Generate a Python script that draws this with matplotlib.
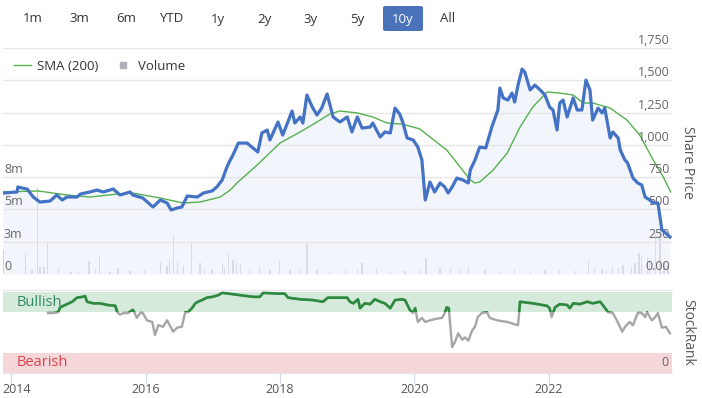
import numpy as np
import matplotlib
matplotlib.use("Agg")
import matplotlib.pyplot as plt
from matplotlib.patches import FancyBboxPatch, Rectangle
from matplotlib.lines import Line2D
import matplotlib.transforms as mtransforms

plt.rcParams['font.family'] = ['Open Sans', 'DejaVu Sans']

# ---- data (decimal years) ----
price_t = [2013.88, 2014.09, 2014.10, 2014.16, 2014.24, 2014.33, 2014.43, 2014.58, 2014.68, 2014.76,
           2014.83, 2014.98, 2015.03, 2015.17, 2015.28, 2015.37, 2015.52, 2015.62, 2015.77, 2015.81,
           2015.96, 2016.11, 2016.22, 2016.32, 2016.38, 2016.47, 2016.54, 2016.62, 2016.77, 2016.86,
           2016.99, 2017.06, 2017.14, 2017.21, 2017.26, 2017.30, 2017.38, 2017.51, 2017.58, 2017.67,
           2017.73, 2017.81, 2017.85, 2017.97, 2018.04, 2018.18, 2018.22, 2018.30, 2018.34, 2018.40,
           2018.48, 2018.55, 2018.62, 2018.70, 2018.79, 2018.89, 2019.00, 2019.07, 2019.15, 2019.22,
           2019.34, 2019.38, 2019.49, 2019.56, 2019.64, 2019.71, 2019.78, 2019.83, 2019.89, 2019.98,
           2020.05, 2020.11, 2020.16, 2020.23, 2020.30, 2020.38, 2020.45, 2020.50, 2020.56, 2020.63,
           2020.72, 2020.80, 2020.83, 2020.90, 2020.97, 2021.06, 2021.15, 2021.24, 2021.27, 2021.32,
           2021.39, 2021.45, 2021.49, 2021.54, 2021.60, 2021.64, 2021.72, 2021.79, 2021.87, 2021.94,
           2022.01, 2022.06, 2022.12, 2022.16, 2022.21, 2022.27, 2022.36, 2022.42, 2022.49, 2022.55,
           2022.61, 2022.65, 2022.73, 2022.79, 2022.83, 2022.91, 2022.95, 2023.03, 2023.06, 2023.13,
           2023.17, 2023.25, 2023.32, 2023.38, 2023.43, 2023.50, 2023.55, 2023.62, 2023.68, 2023.72,
           2023.80]
price = [627, 635, 674, 666, 658, 596, 557, 565, 612, 573,
         596, 596, 619, 635, 650, 635, 658, 612, 635, 612,
         588, 519, 573, 550, 496, 511, 519, 604, 596, 627,
         643, 674, 728, 828, 883, 921, 1014, 1014, 983, 945,
         1092, 1115, 1038, 1177, 1076, 1262, 1169, 1216, 1169, 1386,
         1293, 1231, 1285, 1394, 1216, 1177, 1216, 1100, 1216, 1130,
         1138, 1169, 1061, 1100, 1092, 1285, 1239, 1169, 1053, 1038,
         983, 883, 573, 712, 635, 705, 674, 627, 674, 743,
         728, 705, 805, 883, 983, 976, 1138, 1270, 1440, 1363,
         1347, 1401, 1332, 1463, 1587, 1564, 1425, 1463, 1425, 1386,
         1293, 1270, 1115, 1324, 1347, 1216, 1363, 1270, 1270, 1502,
         1425, 1192, 1285, 1247, 1285, 1053, 1100, 1053, 960, 883,
         859, 743, 705, 689, 596, 573, 550, 550, 341, 325,
         286]

sma_t = [2013.88, 2014.40, 2014.83, 2015.17, 2015.58, 2015.81, 2016.22, 2016.56, 2016.81, 2017.11,
         2017.26, 2017.36, 2017.66, 2018.00, 2018.30, 2018.55, 2018.74, 2018.89, 2019.15, 2019.38,
         2019.59, 2019.81, 2019.98, 2020.08, 2020.23, 2020.48, 2020.68, 2020.83, 2020.90, 2020.97,
         2021.17, 2021.38, 2021.57, 2021.76, 2021.97, 2022.16, 2022.36, 2022.51, 2022.65, 2022.91,
         2023.16, 2023.35, 2023.55, 2023.70, 2023.81]
sma = [635, 643, 612, 596, 619, 627, 588, 550, 557, 596,
       650, 705, 844, 1014, 1100, 1177, 1239, 1262, 1247, 1216,
       1169, 1161, 1138, 1123, 1061, 960, 828, 728, 705, 712,
       805, 937, 1138, 1293, 1409, 1401, 1386, 1324, 1324, 1285,
       1192, 1076, 883, 751, 635]

vol_t = [2013.88, 2014.21, 2014.31, 2014.39, 2014.43, 2014.49, 2014.54, 2014.70, 2014.89, 2015.00,
         2015.16, 2015.26, 2015.31, 2015.47, 2015.59, 2015.77, 2015.99, 2016.22, 2016.32, 2016.36,
         2016.42, 2016.48, 2016.56, 2016.68, 2016.81, 2016.88, 2016.99, 2017.14, 2017.18, 2017.23,
         2017.30, 2017.35, 2017.41, 2017.55, 2017.70, 2017.85, 2017.99, 2018.15, 2018.30, 2018.40,
         2018.55, 2018.74, 2018.97, 2019.15, 2019.22, 2019.44, 2019.64, 2019.86, 2020.08, 2020.17,
         2020.38, 2020.53, 2020.68, 2020.80, 2021.05, 2021.27, 2021.49, 2021.72, 2021.94, 2022.16,
         2022.39, 2022.59, 2022.68, 2022.79, 2022.86, 2022.95, 2023.03, 2023.10, 2023.23, 2023.28,
         2023.34, 2023.38, 2023.46, 2023.50, 2023.58, 2023.65, 2023.71, 2023.77]
volume = [1.86, 1.63, 0.31, 6.66, 0.54, 0.54, 2.48, 0.46, 0.15, 0.23,
          1.00, 0.39, 1.47, 0.15, 0.46, 0.23, 0.31, 0.93, 0.62, 1.08,
          3.02, 0.93, 0.62, 2.48, 0.85, 0.31, 0.39, 0.85, 0.46, 1.63,
          1.08, 0.93, 0.77, 0.31, 0.54, 0.31, 1.00, 0.31, 0.39, 2.32,
          0.31, 0.23, 0.31, 0.31, 0.85, 0.39, 0.23, 0.23, 0.31, 1.24,
          0.46, 0.46, 0.39, 0.54, 0.31, 0.23, 0.31, 0.23, 0.31, 0.31,
          0.23, 1.08, 0.46, 0.39, 0.31, 0.54, 0.54, 0.70, 0.54, 0.85,
          1.63, 1.47, 1.32, 1.08, 3.17, 3.30, 0.93, 0.70]

rank_t = [2014.55, 2014.62, 2014.70, 2014.73, 2014.83, 2014.91, 2014.98, 2015.06, 2015.10, 2015.13,
          2015.22, 2015.32, 2015.43, 2015.55, 2015.58, 2015.62, 2015.67, 2015.74, 2015.81, 2015.84,
          2015.87, 2015.92, 2015.96, 2016.02, 2016.10, 2016.14, 2016.19, 2016.26, 2016.32, 2016.36,
          2016.41, 2016.47, 2016.54, 2016.59, 2016.63, 2016.69, 2016.74, 2016.78, 2016.84, 2016.91,
          2016.99, 2017.08, 2017.14, 2017.23, 2017.41, 2017.60, 2017.70, 2017.75, 2017.96, 2018.07,
          2018.12, 2018.30, 2018.49, 2018.64, 2018.71, 2018.85, 2019.00, 2019.04, 2019.09, 2019.16,
          2019.19, 2019.26, 2019.34, 2019.41, 2019.49, 2019.56, 2019.64, 2019.71, 2019.81, 2019.86,
          2019.93, 2019.98, 2020.01, 2020.05, 2020.11, 2020.16, 2020.23, 2020.33, 2020.41, 2020.45,
          2020.48, 2020.51, 2020.56, 2020.60, 2020.65, 2020.71, 2020.75, 2020.80, 2020.86, 2020.90,
          2020.94, 2021.00, 2021.08, 2021.12, 2021.23, 2021.38, 2021.54, 2021.57, 2021.76, 2021.97,
          2022.01, 2022.04, 2022.09, 2022.16, 2022.27, 2022.31, 2022.36, 2022.46, 2022.57, 2022.65,
          2022.76, 2022.80, 2022.88, 2022.95, 2023.01, 2023.09, 2023.13, 2023.20, 2023.25, 2023.32,
          2023.38, 2023.43, 2023.46, 2023.53, 2023.58, 2023.62, 2023.68, 2023.74, 2023.80]
rank = [74, 74, 75, 81, 85, 88, 93, 94, 95, 88,
        86, 86, 84, 83, 75, 72, 74, 74, 78, 74,
        68, 74, 74, 65, 63, 47, 59, 57, 65, 59,
        51, 56, 57, 75, 75, 80, 86, 88, 90, 93,
        94, 96, 99, 98, 96, 94, 94, 99, 98, 98,
        93, 91, 90, 88, 93, 93, 93, 88, 86, 91,
        80, 86, 85, 91, 88, 86, 80, 90, 91, 90,
        78, 74, 80, 63, 68, 63, 65, 67, 68, 74,
        81, 80, 32, 38, 49, 41, 44, 40, 53, 57,
        69, 74, 75, 68, 65, 63, 59, 88, 86, 83,
        80, 69, 81, 85, 84, 80, 86, 85, 88, 86,
        88, 84, 75, 74, 65, 51, 57, 63, 59, 74,
        74, 69, 75, 65, 69, 74, 56, 57, 49]

price_ticks = [0, 250, 500, 750, 1000, 1250, 1500, 1750]
price_labels = ['0.00', '250', '500', '750', '1,000', '1,250', '1,500', '1,750']
vol_ticks = [0, 2.5, 5, 7.5]
vol_labels = ['0', '3m', '5m', '8m']
years = [2014, 2016, 2018, 2020, 2022]
buttons = ['1m', '3m', '6m', 'YTD', '1y', '2y', '3y', '5y', '10y', 'All']

# ---- layout helpers ----
W, H = 702, 398
def rect(x0, y0, x1, y1):
    return [x0 / W, 1 - y1 / H, (x1 - x0) / W, (y1 - y0) / H]

fig = plt.figure(figsize=(W / 100, H / 100), dpi=100)
fig.patch.set_facecolor('white')
xmin, xmax = 2013.88, 2023.83

# range selector buttons
btn_x = [33, 79, 126, 171, 218, 264, 310, 357, 403, 448]
for lab, bx in zip(buttons, btn_x):
    col = '#333333'
    if lab == '10y':
        fig.add_artist(FancyBboxPatch((383 / W, 1 - 31 / H), 40 / W, 25 / H,
                                      boxstyle='round,pad=0,rounding_size=0.004',
                                      transform=fig.transFigure, fc='#4a72b8', ec='none'))
        col = 'white'
    fig.text(bx / W, 1 - 19 / H, lab, ha='center', va='center', fontsize=9.5, color=col)

# volume axes (behind)
axv = fig.add_axes(rect(3, 48, 672, 274))
axv.bar(vol_t, volume, width=0.018, color='#c6c6cc', linewidth=0)
axv.set_xlim(xmin, xmax)
axv.set_ylim(0, 17.5)
axv.axis('off')

# price axes
ax = fig.add_axes(rect(3, 48, 672, 274))
ax.patch.set_visible(False)
ax.fill_between(price_t, price, 0, color='#e9eef8', alpha=0.55, linewidth=0)
ax.plot(sma_t, sma, color='#55b04f', lw=1.0, zorder=3)
ax.plot(price_t, price, color='#4472c4', lw=2.3, zorder=4, solid_joinstyle='round')
ax.set_xlim(xmin, xmax)
ax.set_ylim(0, 1750)
ax.set_yticks(price_ticks)
ax.grid(axis='y', color='#e6e6e6', lw=1)
ax.tick_params(left=False, bottom=False, labelleft=False, labelbottom=False)
for s in ax.spines.values():
    s.set_visible(False)
for v, lab in zip(price_ticks, price_labels):
    ax.annotate(lab, xy=(1, v), xycoords=('axes fraction', 'data'), xytext=(-2, 1),
                textcoords='offset pixels', ha='right', va='bottom', fontsize=9, color='#666666')
for v, lab in zip(vol_ticks, vol_labels):
    ax.annotate(lab, xy=(0, v * 100), xycoords=('axes fraction', 'data'), xytext=(1, 1),
                textcoords='offset pixels', ha='left', va='bottom', fontsize=9, color='#666666')
fig.text(688 / W, 1 - 162 / H, 'Share Price', rotation=270, ha='center', va='center',
         fontsize=10, color='#555555')

# legend
leg_handles = [Line2D([], [], color='#55b04f', lw=1.0),
               Line2D([], [], marker='s', ls='none', color='#b0b0b8', markersize=5)]
ax.legend(leg_handles, ['SMA (200)', 'Volume'], loc='upper left', bbox_to_anchor=(0, 0.995),
          ncol=2, frameon=False, fontsize=9.5, handlelength=1.3, handletextpad=0.5,
          columnspacing=1.2, borderaxespad=0.4, labelcolor='#333333')

# separator line
fig.add_artist(Line2D([3 / W, 672 / W], [1 - 290 / H, 1 - 290 / H], color='#e6e6e6', lw=1))

# StockRank axes
axr = fig.add_axes(rect(3, 292, 672, 373))
axr.axhspan(75, 100, color='#d5eadb', lw=0)
axr.axhspan(0, 25, color='#f5d7da', lw=0)
axr.plot(rank_t, rank, color='#a6a6a6', lw=1.7)
green, = axr.plot(rank_t, rank, color='#2b8a3e', lw=1.9)
clip = Rectangle((xmin, 75), xmax - xmin, 30, transform=axr.transData)
green.set_clip_path(clip)
axr.set_xlim(xmin, xmax)
axr.set_ylim(0, 100)
axr.set_yticks([])
axr.set_xticks(years)
axr.set_xticklabels([str(y) for y in years], fontsize=9, color='#555555')
axr.tick_params(axis='x', length=7, color='#ccd6eb', pad=0)
for s in ['top', 'left', 'right']:
    axr.spines[s].set_visible(False)
axr.spines['bottom'].set_color('#e6e6e6')
first = axr.get_xticklabels()[0]
first.set_ha('left')
first.set_transform(first.get_transform() + mtransforms.ScaledTranslation(-9 / 100, 0, fig.dpi_scale_trans))
bl = mtransforms.blended_transform_factory(axr.transAxes, axr.transData)
axr.text(0.02, 87.5, 'Bullish', transform=bl, ha='left', va='center', fontsize=10.5, color='#2e8a5e')
axr.text(0.02, 12.5, 'Bearish', transform=bl, ha='left', va='center', fontsize=10.5, color='#d9434f')
axr.text(0.995, 12.5, '0', transform=bl, ha='right', va='center', fontsize=9, color='#666666')
fig.text(688 / W, 1 - 332 / H, 'StockRank', rotation=270, ha='center', va='center',
         fontsize=10, color='#555555')

fig.savefig('out.png', dpi=100)
